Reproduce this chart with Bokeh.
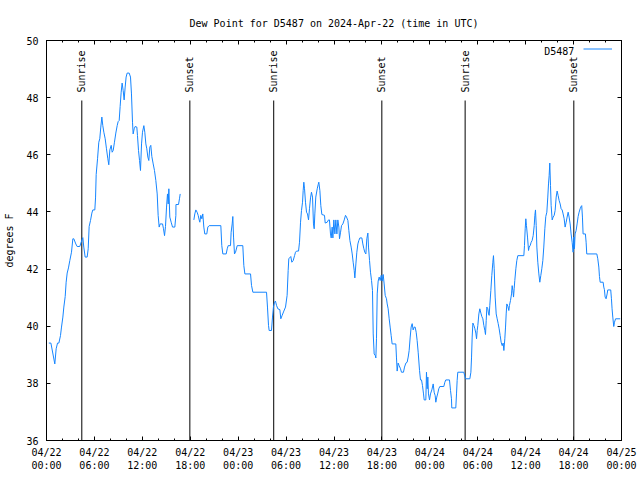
import math
from bokeh.plotting import figure
from bokeh.models import FixedTicker, Label, Legend, LegendItem, LinearAxis, Title
from bokeh.core.properties import value
from bokeh.embed import file_html
from bokeh.resources import INLINE

NAN = float("nan")

# hours since 2024-04-22 00:00 UTC
hours = [
    0.29, 0.55, 1.04, 1.21, 1.38, 1.55, 1.75, 1.88, 2.05, 2.17, 2.34, 2.46, 2.59, 2.75, 2.92, 3.13,
    3.30, 3.42, 3.67, 3.84, 4.17, 4.34, 4.55, 4.67, 4.84, 5.09, 5.22, 5.34, 5.51, 5.68, 5.80, 6.05,
    6.14, 6.22, 6.39, 6.55, 6.67, 6.80, 6.93, 7.05, 7.18, 7.35, 7.51, 7.68, 7.80, 7.93, 8.10, 8.22,
    8.35, 8.51, 8.68, 8.85, 8.97, 9.10, 9.22, 9.35, 9.47, 9.60, 9.72, 9.85, 9.97, 10.10, 10.35, 10.52,
    10.64, 10.77, 10.85, 10.98, 11.10, 11.31, 11.39, 11.52, 11.65, 11.77, 11.90, 12.02, 12.19, 12.31,
    12.44, 12.56, 12.69, 12.81, 12.94, 13.06, 13.19, 13.36, 13.52, 13.69, 13.86, 13.98, 14.11, 14.23,
    14.53, 14.65, 14.78, 14.90, 15.03, 15.15, 15.24, 15.32, 15.44, 15.61, 15.78, 16.07, 16.20, 16.21,
    16.53, 16.65, 16.74,
    17.50,
    18.45, 18.57, 18.70, 18.86, 18.99, 19.12, 19.20, 19.32, 19.45, 19.57, 19.70, 19.82, 20.07, 20.20,
    20.37, 21.83, 21.95, 22.08, 22.50, 22.63, 22.75, 23.04, 23.12, 23.25, 23.33, 23.42, 23.54, 23.67,
    23.88, 24.58, 24.71, 24.84, 25.55, 25.67, 25.84, 27.55, 27.67, 27.80, 27.88, 28.17, 28.30, 28.42,
    28.55, 28.67, 28.80, 28.97, 29.22, 29.34, 29.51, 29.72, 29.93,
    30.13, 30.26, 30.34, 30.59, 30.72, 30.89, 31.06, 31.18, 31.31, 31.56, 31.68, 31.81, 31.93, 32.06,
    32.14, 32.22, 32.31, 32.43, 32.56, 32.68, 32.81, 32.93, 33.06, 33.18, 33.31, 33.43, 33.52, 33.60,
    33.72, 33.90, 34.02, 34.10, 34.23, 34.35, 34.48, 34.81, 34.90, 35.15, 35.31, 35.43, 35.56, 35.65,
    35.77, 35.86, 35.98, 36.11, 36.23, 36.36, 36.48, 36.61, 36.69, 36.82, 36.94, 37.11, 37.28, 37.44,
    37.57, 37.74, 37.86, 37.99, 38.15, 38.28, 38.40, 38.53, 38.61, 38.74, 38.86, 38.99, 39.11, 39.24,
    39.49, 39.61, 39.74, 39.86, 39.99, 40.11, 40.24, 40.32, 40.45, 40.57, 40.70, 40.82, 40.91, 41.03,
    41.16, 41.24, 41.32, 41.41, 41.53, 41.66, 41.78, 41.91, 42.03, 42.16, 42.28, 42.41, 42.57,
    42.66, 42.78, 42.91, 43.03, 43.16, 43.28, 43.74, 43.82, 43.91, 44.03, 44.16, 44.33, 44.45, 44.70,
    44.83, 45.00, 45.16, 45.29, 45.41, 45.54, 45.66, 45.79, 45.91, 46.04, 46.16, 46.29, 46.41, 46.54,
    46.71, 46.83, 46.96, 47.08, 47.21, 47.29, 47.50, 47.58, 47.67, 47.75, 47.83, 47.96, 48.08, 48.25,
    48.42, 48.54, 48.67, 48.75, 48.87, 49.00, 49.12, 49.25, 49.75, 49.88, 50.00, 50.46, 50.59, 50.71,
    50.75, 51.25, 51.34, 51.42, 51.50,
    52.25, 52.47, 53.01, 53.14, 53.22, 53.30, 53.39, 53.51, 53.64, 53.76, 53.85, 53.93, 54.01, 54.14,
    54.26, 54.39, 54.51, 54.64, 54.76, 54.89, 54.97, 55.06, 55.14, 55.26, 55.35, 55.43, 55.51, 55.64,
    55.76, 55.89, 55.97, 56.06, 56.18, 56.31, 56.43, 56.56, 56.68, 56.81, 56.93, 57.06, 57.18, 57.27,
    57.39, 57.48, 57.56, 57.64, 57.77, 57.89, 57.97, 58.10, 58.23, 58.31, 58.40, 58.48, 58.56, 58.64,
    58.77, 58.89, 59.02, 59.77, 59.85, 59.94, 60.02, 60.10, 60.23, 60.36, 60.44, 60.56, 60.69, 60.81,
    60.94, 61.07, 61.15, 61.23, 61.32, 61.40, 61.52, 61.65, 61.77, 61.90, 62.02, 62.15, 62.27, 62.40,
    62.52, 62.65, 62.77, 62.86, 62.94, 63.02, 63.11, 63.19, 63.32, 63.44, 63.57, 63.69, 63.82, 63.94,
    64.07, 64.19, 64.32, 64.44, 64.57, 64.69, 64.82, 64.94, 65.07, 65.19, 65.32, 65.44, 65.57, 65.69,
    65.82, 65.94, 66.03, 66.11, 66.19, 66.32, 66.44, 66.57, 66.69, 66.82, 66.94, 67.02, 67.11, 67.19,
    67.48, 67.57, 67.65, 68.91, 69.03, 69.16, 69.24, 69.33, 69.70, 69.78, 69.86, 69.95, 70.07, 70.20,
    70.28, 70.65, 70.74, 70.82, 70.91, 71.03, 71.12, 71.26, 71.84,
]

dew_point_f = [
    39.41, 39.41, 38.68, 39.21, 39.41, 39.41, 39.67, 39.97, 40.32, 40.67, 41.04, 41.54, 41.86, 42.04, 42.30, 42.59,
    43.06, 43.06, 42.88, 42.79, 42.79, 42.94, 43.10, 42.77, 42.42, 42.42, 42.71, 43.49, 43.70, 43.96, 44.07, 44.07,
    44.49, 45.31, 45.86, 46.44, 46.56, 46.97, 47.32, 47.02, 46.79, 46.56, 46.21, 45.86, 45.65, 46.17, 46.33, 46.09,
    46.15, 46.44, 46.76, 47.02, 47.16, 47.20, 47.69, 48.19, 48.51, 48.25, 47.92, 48.37, 48.72, 48.86, 48.86, 48.72,
    48.13, 47.14, 46.73, 46.91, 46.99, 46.97, 46.68, 46.15, 45.80, 45.45, 46.38, 46.79, 47.02, 46.79,
    46.38, 46.21, 45.92, 45.80, 46.27, 46.33, 45.94, 45.68, 45.45, 45.10, 44.63, 43.88, 43.47, 43.58,
    43.58, 43.41, 43.17, 43.49, 44.17, 44.63, 44.28, 44.81, 43.82, 43.64, 43.47, 43.47, 43.88, 44.26,
    44.26, 44.46, 44.63,
    NAN,
    43.72, 43.93, 44.07, 43.99, 43.88, 43.72, 43.64, 43.88, 43.76, 43.93, 43.47, 43.23, 43.23, 43.47,
    43.52, 43.52, 42.82, 42.53, 42.53, 42.71, 42.82, 42.82, 43.29, 43.58, 43.84, 43.12, 42.53, 42.59,
    42.82, 42.82, 42.12, 41.83, 41.83, 41.43, 41.19, 41.19, 40.67, 40.03, 39.85, 39.85, 40.32, 40.67,
    40.84, 40.88, 40.73, 40.61, 40.58, 40.26, 40.38, 40.53, 40.67,
    41.08, 41.95, 42.36, 42.44, 42.24, 42.30, 42.47, 42.59, 42.63, 42.63, 42.94, 43.64, 44.05, 44.34,
    44.75, 45.04, 44.81, 44.34, 43.99, 43.93, 43.72, 44.11, 44.49, 44.69, 44.52, 43.58, 43.41, 43.93,
    44.52, 44.81, 44.96, 45.04, 44.75, 44.22, 43.91, 43.88, 43.61, 43.64, 43.72, 43.72, 43.23, 43.09,
    43.47, 43.09, 43.72, 43.23, 43.72, 43.23, 43.72, 43.47, 43.06, 43.29, 43.52, 43.58, 43.72, 43.88,
    43.82, 43.70, 43.35, 43.00, 42.77, 42.53, 42.24, 41.95, 41.69, 42.18, 42.59, 42.88, 43.00, 43.09,
    43.09, 42.88, 42.71, 42.59, 42.53, 43.06, 43.26, 42.77, 42.30, 41.89, 41.60, 41.25, 39.73, 39.03,
    38.98, 38.89, 39.56, 41.13, 41.58, 41.72, 41.60, 41.78, 41.58, 41.81, 41.48, 41.08, 40.96,
    40.78, 40.61, 40.26, 39.97, 39.67, 39.38, 39.38, 38.92, 38.43, 38.71, 38.62, 38.51, 38.39, 38.39,
    38.57, 38.71, 38.74, 38.92, 39.15, 39.62, 39.97, 40.09, 39.87, 39.97, 39.97, 39.79, 39.50, 39.09,
    38.45, 38.12, 38.12, 37.92, 37.63, 37.42, 37.42, 38.39, 37.81, 38.22, 37.63, 37.42, 37.63, 37.77,
    37.98, 37.69, 37.57, 37.34, 37.52, 37.66, 37.81, 37.89, 37.89, 38.04, 38.12, 38.12, 37.75, 37.46,
    37.14, 37.14, 37.63, 38.10, 38.39,
    38.39, 38.16, 38.16, 38.39, 38.89, 39.62, 40.11, 40.03, 39.91, 39.76, 39.56, 39.85, 40.03, 40.43,
    40.61, 40.46, 40.34, 40.26, 40.03, 39.85, 39.71, 40.20, 40.67, 40.61, 40.43, 40.38, 40.73, 41.25,
    41.78, 42.24, 42.47, 42.01, 41.02, 40.43, 40.26, 40.09, 39.91, 39.67, 39.44, 39.32, 39.41, 39.15,
    39.56, 39.97, 40.43, 40.78, 40.70, 40.55, 40.73, 40.90, 41.13, 41.42, 41.25, 41.02, 41.31, 41.60,
    42.01, 42.30, 42.47, 42.47, 42.82, 43.41, 43.76, 43.52, 43.12, 42.65, 42.77, 42.82, 42.94, 43.00,
    43.17, 43.52, 43.88, 44.07, 43.52, 42.77, 42.24, 41.83, 41.54, 41.78, 42.01, 42.30, 42.77, 43.41,
    43.84, 43.99, 44.52, 44.98, 45.27, 45.71, 44.92, 44.22, 43.72, 43.82, 43.88, 44.05, 44.52, 44.73,
    44.57, 44.40, 44.28, 44.11, 44.07, 43.93, 43.76, 43.47, 43.64, 43.82, 43.99, 43.82, 43.58, 43.23,
    42.94, 42.59, 43.12, 42.71, 43.23, 43.35, 43.58, 43.84, 43.99, 44.11, 44.19, 44.22, 43.82, 43.23,
    43.23, 42.94, 42.53, 42.53, 42.36, 42.07, 41.74, 41.54, 41.54, 41.37, 41.28, 41.02, 40.96, 41.13,
    41.27, 41.27, 40.96, 40.61, 40.32, 39.99, 40.14, 40.26, 40.26,
]

sunrise_hours = [4.42, 28.45, 52.42]
sunset_hours = [17.95, 41.99, 66.03]

x_tick_hours = [0, 6, 12, 18, 24, 30, 36, 42, 48, 54, 60, 66, 72]
x_tick_labels = ["04/22\n00:00", "04/22\n06:00", "04/22\n12:00", "04/22\n18:00",
                 "04/23\n00:00", "04/23\n06:00", "04/23\n12:00", "04/23\n18:00",
                 "04/24\n00:00", "04/24\n06:00", "04/24\n12:00", "04/24\n18:00",
                 "04/25\n00:00"]
x_minor_hours = list(range(0, 73, 2))
y_ticks = [36, 38, 40, 42, 44, 46, 48, 50]
series_name = "D5487"

FONT = "DejaVu Sans Mono"
FS = "10px"
LINE_COLOR = "#1585ff"

p = figure(width=640, height=480, output_backend="svg", toolbar_location=None,
           x_range=(0, 72), y_range=(36, 50),
           min_border_left=46, min_border_right=19, min_border_top=40, min_border_bottom=40)
p.title = Title(text="Dew Point for D5487 on 2024-Apr-22 (time in UTC)", align="center",
                text_font=FONT, text_font_size=FS, text_font_style="normal",
                text_color="black", offset=0, standoff=24)
p.grid.visible = False
p.background_fill_color = "white"
p.border_fill_color = "white"
p.outline_line_color = "black"
p.outline_line_width = 1

xt = FixedTicker(ticks=x_tick_hours, minor_ticks=x_minor_hours)
yt = FixedTicker(ticks=y_ticks, minor_ticks=[])

def style_axis(ax, show_labels):
    ax.axis_line_color = "black"
    ax.major_tick_in = 4
    ax.major_tick_out = 0
    ax.minor_tick_in = 2
    ax.minor_tick_out = 0
    ax.major_tick_line_color = "black"
    ax.minor_tick_line_color = "black"
    ax.major_label_text_font = FONT
    ax.major_label_text_font_size = FS
    ax.major_label_text_color = "black" if show_labels else None
    ax.axis_label_text_font = FONT
    ax.axis_label_text_font_size = FS
    ax.axis_label_text_font_style = "normal"
    ax.axis_label_text_color = "black"

xa = p.xaxis[0]
xa.ticker = xt
xa.major_label_overrides = {h: lab for h, lab in zip(x_tick_hours, x_tick_labels)}
style_axis(xa, True)
xa.major_label_standoff = 6

ya = p.yaxis[0]
ya.ticker = yt
ya.axis_label = "degrees F"
style_axis(ya, True)
ya.major_label_standoff = 8
ya.axis_label_standoff = 8

top = LinearAxis(ticker=FixedTicker(ticks=x_tick_hours, minor_ticks=x_minor_hours))
style_axis(top, False)
top.major_label_text_font_size = "0px"
p.add_layout(top, "above")
right = LinearAxis(ticker=FixedTicker(ticks=y_ticks, minor_ticks=[]))
style_axis(right, False)
right.major_label_text_font_size = "0px"
p.add_layout(right, "right")

# sunrise / sunset markers
for hrs, name in ((sunrise_hours, "Sunrise"), (sunset_hours, "Sunset")):
    for h in hrs:
        p.segment(x0=[h], y0=[36], x1=[h], y1=[47.9], line_color="black", line_width=1)
        p.add_layout(Label(x=h, y=48.18, text=name, angle=math.pi / 2,
                           text_font=FONT, text_font_size=FS, text_color="black",
                           text_align="left", text_baseline="middle"))

r = p.line(hours, dew_point_f, line_color=LINE_COLOR, line_width=1)

# gnuplot-style key: title text first, then the line sample
legend = Legend(items=[LegendItem(label=value(" "), renderers=[r])], location="top_right",
                border_line_color=None, background_fill_alpha=0,
                label_text_font=FONT, label_text_font_size=FS, glyph_width=29,
                glyph_height=11, label_height=11, label_width=6, label_standoff=0,
                padding=2, margin=3, spacing=0)
p.add_layout(legend)
p.add_layout(Label(x=66.1, y=49.6, text=series_name, text_font=FONT, text_font_size=FS,
                   text_color="black", text_align="right", text_baseline="middle"))

open("out.html", "w").write(file_html(p, INLINE))
